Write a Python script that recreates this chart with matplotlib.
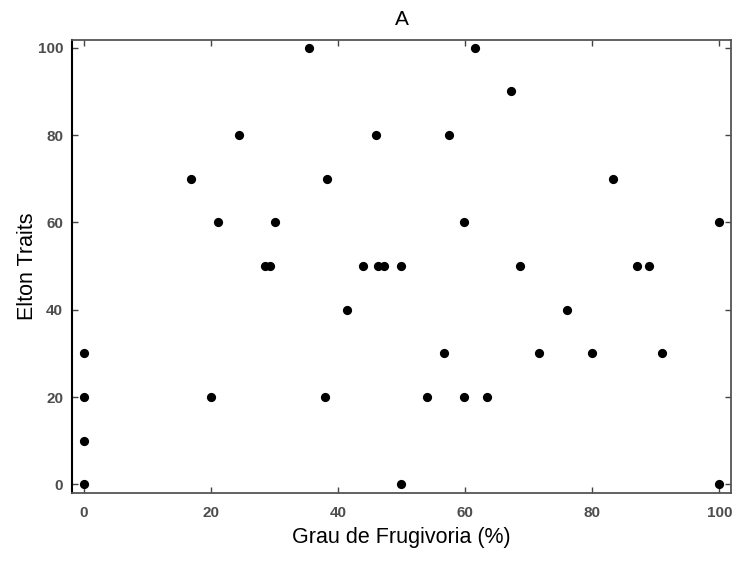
import matplotlib.pyplot as plt

plt.rcParams['font.family'] = ['Liberation Sans', 'DejaVu Sans']

# Grau de Frugivoria (%) vs Elton Traits
frugivoria = [0, 0, 0, 0,
              16.9, 21.2, 24.5, 20.1, 28.6, 29.3, 30.1,
              35.5, 38.3, 38.0, 41.5, 43.9, 46.3, 47.3, 46.0,
              49.9, 49.9, 56.7, 57.4, 54.0, 59.9, 59.8, 61.5,
              63.4, 67.3, 68.7, 71.7, 76.1, 80.0, 83.3, 87.1,
              89.0, 91.0, 100, 100]
elton = [30, 20, 10, 0,
         70, 60, 80, 20, 50, 50, 60,
         100, 70, 20, 40, 50, 50, 50, 80,
         50, 0, 30, 80, 20, 60, 20, 100,
         20, 90, 50, 30, 40, 30, 70, 50,
         50, 30, 60, 0]

xticks = [0, 20, 40, 60, 80, 100]
yticks = [0, 20, 40, 60, 80, 100]

fig = plt.figure(figsize=(7.36, 5.63), dpi=100)
ax = fig.add_axes([0.098, 0.124, 0.895, 0.805])

ax.scatter(frugivoria, elton, s=44, color='black', marker='o', linewidths=0, zorder=3)

ax.set_xlim(-1.8, 101.8)
ax.set_ylim(-2.0, 101.8)
ax.set_xticks(xticks)
ax.set_yticks(yticks)
ax.tick_params(direction='in', length=4, width=1, top=True, right=True,
               labelsize=11, labelcolor='#4d4d4d', color='#444444')
ax.tick_params(axis='x', pad=9)
ax.tick_params(axis='y', pad=6.5)
for lab in ax.get_xticklabels() + ax.get_yticklabels():
    lab.set_fontweight('bold')

for side in ['top', 'right', 'bottom']:
    ax.spines[side].set_color('#555555')
    ax.spines[side].set_linewidth(1.3)
ax.spines['left'].set_color('black')
ax.spines['left'].set_linewidth(1.5)

ax.set_title('A', fontsize=15, pad=11)
ax.set_xlabel('Grau de Frugivoria (%)', fontsize=15.5, labelpad=5)
ax.set_ylabel('Elton Traits', fontsize=15.5, labelpad=0)

fig.savefig('out.png', dpi=100)
